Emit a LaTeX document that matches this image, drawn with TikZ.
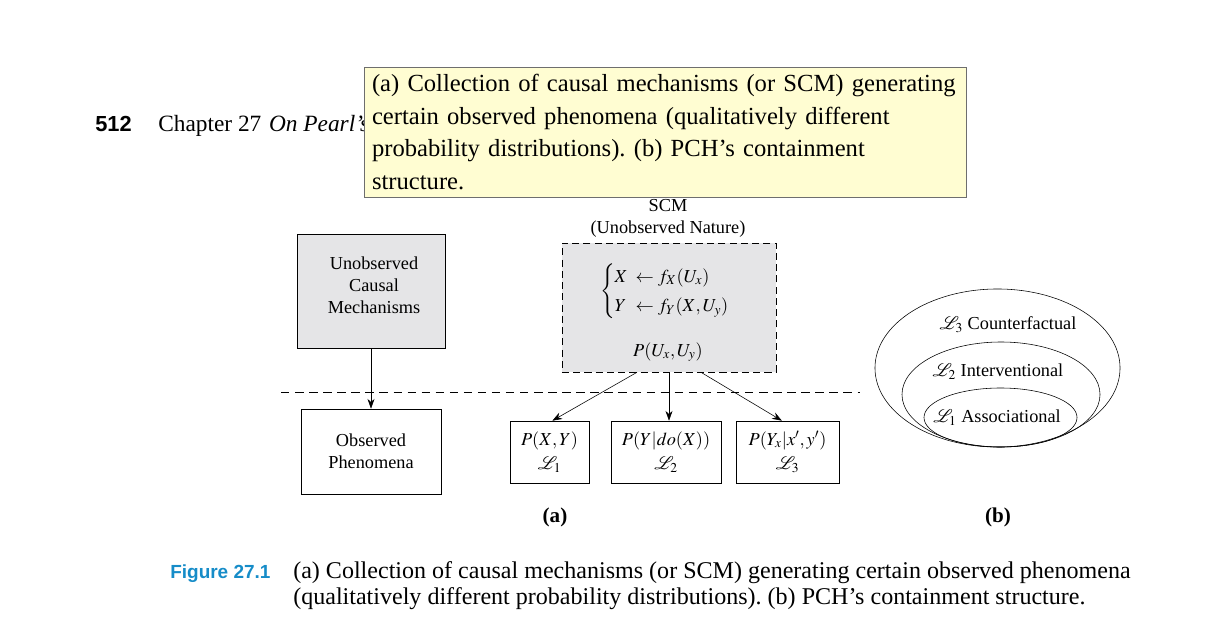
\documentclass[tikz,border=0pt]{standalone}
\usepackage{mathptmx}
\usepackage{fontspec}
\setmainfont{Liberation Serif}
\setsansfont{Liberation Sans}
\usetikzlibrary{arrows.meta,positioning,calc,shapes.geometric}
\definecolor{tipyellow}{RGB}{255,253,210}
\definecolor{tipedge}{RGB}{110,110,110}
\definecolor{boxgrey}{RGB}{229,229,231}
\definecolor{figblue}{RGB}{22,140,200}
\frenchspacing
\newcommand{\dgfont}{\fontsize{13}{15.6}\selectfont}
\newcommand{\capfont}{\fontsize{17.1}{18.6}\selectfont}
\tikzset{
  mech/.style={draw, fill=boxgrey, align=center, font=\dgfont, minimum width=3.7cm, minimum height=2.85cm},
  obsv/.style={draw, fill=white, align=center, font=\dgfont, minimum width=3.5cm, minimum height=2.125cm},
  scmbox/.style={draw, dash pattern=on 5pt off 3pt, fill=boxgrey, minimum width=5.35cm, minimum height=3.225cm},
  rung/.style={draw, fill=white, align=center, font=\dgfont, minimum height=1.55cm, inner sep=1pt},
  lbl/.style={font=\dgfont, align=center, inner sep=1pt},
  sub/.style={font=\fontsize{15}{18}\selectfont\bfseries},
  arr/.style={-{Stealth[length=7pt,width=5pt]}, thin},
  layer/.style={draw, ellipse, inner sep=0pt}
}

\begin{document}
\begin{tikzpicture}[x=0.025cm, y=-0.025cm]
  \useasboundingbox (0,0) rectangle (1209,624);
  % running head (partly hidden by the tooltip)
  \node[font=\sffamily\bfseries\fontsize{15.5}{18}\selectfont, anchor=base west, inner sep=0] (page) at (95,132) {512};
  \node[font=\fontsize{16.6}{18}\selectfont, anchor=base west, inner sep=0] (chap) at (158,132) {Chapter 27\hspace{5.5pt}\textit{On Pearl's}};
  % tooltip
  \node[draw=tipedge, fill=tipyellow, anchor=north west, minimum width=15.025cm, minimum height=3.225cm,
        text width=14.65cm, align=left, inner xsep=5.5pt, inner ysep=5pt, font=\fontsize{17.5}{23.2}\selectfont] (tip) at (364,67)
    {(a) Collection of causal mechanisms (or SCM) generating\\
     certain observed phenomena (qualitatively different\\
     probability distributions). (b) PCH's containment\\
     structure.};
  % (a)
  \node[mech] (causal) at (371,291) {};
  \node[lbl] (causaltxt) at (374,285) {Unobserved\\Causal\\Mechanisms};
  \node[obsv] (obs) at (371,451.5) {Observed\\Phenomena};
  \node[lbl] (scmlbl) at (668,218) {SCM\\(Unobserved Nature)};
  \node[scmbox] (scm) at (669,307.5) {};
  \node[lbl] (eqs) at (665,291) {\renewcommand{\arraystretch}{1.35}$\left\{\begin{array}{@{}l@{\;\;}l@{}} X & \leftarrow f_X(U_x)\\ Y & \leftarrow f_Y(X,U_y)\end{array}\right.$};
  \node[lbl] (pu) at (668,352) {$P(U_x,U_y)$};
  \node[rung, minimum width=1.975cm] (l1) at (549.5,452) {$P(X,Y)$\\[2pt]$\mathcal{L}_1$};
  \node[rung, minimum width=2.75cm] (l2) at (666,452) {$P(Y|do(X))$\\[2pt]$\mathcal{L}_2$};
  \node[rung, minimum width=2.575cm] (l3) at (787.5,452) {$P(Y_x|x', y')$\\[2pt]$\mathcal{L}_3$};
  \coordinate (cutl) at (281,392);
  \coordinate (cutr) at (860,392);
  \draw[dash pattern=on 6pt off 4pt] (cutl) -- (cutr);
  \draw[arr] (causal) -- (obs);
  \draw[arr] ([xshift=-0.8cm]scm.south) -- ([xshift=2pt]l1.north);
  \draw[arr] (scm.south) -- (scm.south |- l2.north);
  \draw[arr] ([xshift=0.8cm]scm.south) -- ([xshift=-4pt]l3.north);
  \node[sub] (suba) at (555,517) {(a)};
  % (b)
  \node[layer, minimum width=6.125cm, minimum height=3.95cm] (outer) at (997.5,368) {};
  \node[layer, minimum width=4.95cm, minimum height=2.625cm] (middle) at (1001,394.5) {};
  \node[layer, minimum width=3.825cm, minimum height=1.475cm] (inner) at (1000.5,417.5) {};
  \node[lbl] (cf) at (1008,325) {$\mathcal{L}_3$ Counterfactual};
  \node[lbl] (iv) at (998,372) {$\mathcal{L}_2$ Interventional};
  \node[lbl] (as) at (997,418) {$\mathcal{L}_1$ Associational};
  \node[sub] (subb) at (998,517) {(b)};
  % caption
  \node[font=\sffamily\bfseries\fontsize{13.5}{16}\selectfont, text=figblue, anchor=base west, inner sep=0] (fig) at (170,578) {Figure 27.1};
  \node[font=\capfont, anchor=north west, align=left, inner sep=0] (cap) at (293,561)
    {(a) Collection of causal mechanisms (or SCM) generating certain observed phenomena\\
     (qualitatively different probability distributions). (b) PCH's containment structure.};
\end{tikzpicture}
\end{document}
